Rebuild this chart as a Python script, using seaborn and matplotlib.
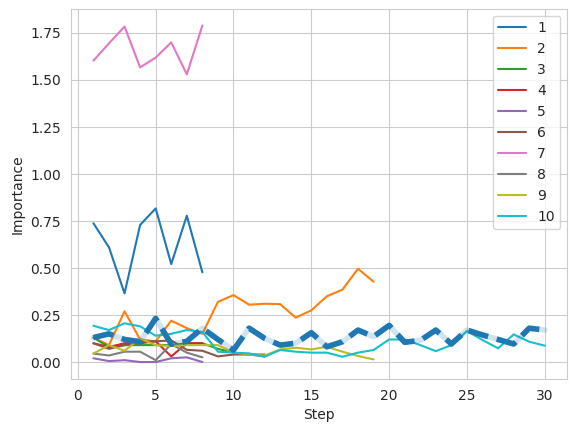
import matplotlib
matplotlib.use("Agg")
import matplotlib.pyplot as plt
import seaborn as sns
import pandas as pd

# feature importance per step
f1 = [0.738, 0.61, 0.365, 0.729, 0.817, 0.521, 0.778, 0.477]
f2 = [0.13, 0.09, 0.27, 0.12, 0.11, 0.22, 0.18, 0.15, 0.32, 0.356, 0.305,
      0.31, 0.308, 0.236, 0.275, 0.35, 0.385, 0.496, 0.427]
f3 = [0.13, 0.08, 0.09, 0.09, 0.09, 0.09, 0.10, 0.10, 0.07, 0.05, 0.04, 0.03]
f4 = [0.10, 0.08, 0.10, 0.10, 0.11, 0.03, 0.10, 0.10]
f5 = [0.02, 0.005, 0.01, 0.0, 0.0, 0.02, 0.025, 0.0]
f6 = [0.10, 0.07, 0.09, 0.11, 0.11, 0.115, 0.065, 0.06, 0.03, 0.04, 0.04, 0.04]
f7 = [1.603, 1.695, 1.784, 1.567, 1.619, 1.70, 1.53, 1.79]
f8 = [0.045, 0.035, 0.055, 0.055, 0.01, 0.095, 0.05, 0.025]
f9 = [0.045, 0.09, 0.06, 0.125, 0.09, 0.085, 0.09, 0.09, 0.09, 0.05, 0.04,
      0.035, 0.067, 0.076, 0.067, 0.081, 0.055, 0.032, 0.014]
f10 = [0.193, 0.17, 0.206, 0.19, 0.14, 0.15, 0.17, 0.16, 0.055, 0.05, 0.046,
       0.028, 0.064, 0.055, 0.05, 0.05, 0.028, 0.05, 0.064, 0.12, 0.12, 0.09,
       0.058, 0.09, 0.165, 0.117, 0.073, 0.147, 0.108, 0.087]
mean_line = [0.13, 0.15, 0.12, 0.108, 0.232, 0.095, 0.11, 0.18, 0.12, 0.064,
             0.18, 0.126, 0.09, 0.10, 0.156, 0.081, 0.108, 0.17, 0.135, 0.195,
             0.105, 0.115, 0.17, 0.096, 0.17, 0.144, 0.12, 0.096, 0.18, 0.17]

features = [f1, f2, f3, f4, f5, f6, f7, f8, f9, f10]

rows = []
for i, vals in enumerate(features):
    for step, v in enumerate(vals, start=1):
        rows.append({"Step": step, "Importance": v, "Feature": str(i + 1)})
df = pd.DataFrame(rows)

mean_df = pd.DataFrame({"Step": range(1, len(mean_line) + 1), "Importance": mean_line})

sns.set_style("whitegrid")
fig, ax = plt.subplots(figsize=(5.76, 4.32), dpi=100)

sns.lineplot(data=df, x="Step", y="Importance", hue="Feature",
             palette="tab10", ax=ax)

# mean line: faint solid underlay + thick dashed on top
sns.lineplot(data=mean_df, x="Step", y="Importance", color="tab:blue",
             alpha=0.2, linewidth=4, legend=False, ax=ax)
sns.lineplot(data=mean_df, x="Step", y="Importance", color="tab:blue",
             linestyle="--", linewidth=4, legend=False, ax=ax)

ax.legend(loc="upper right")
ax.set_xlabel("Step")
ax.set_ylabel("Importance")

fig.subplots_adjust(left=0.123, right=0.985, top=0.98, bottom=0.123)
plt.savefig("out.png")
